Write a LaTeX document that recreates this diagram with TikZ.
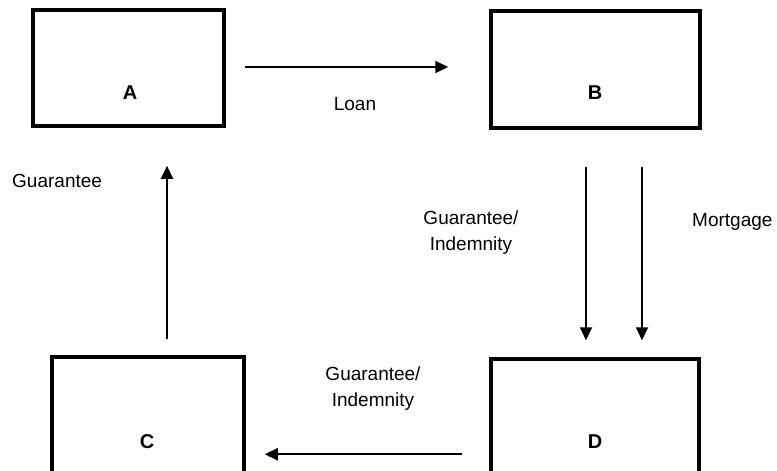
\documentclass[tikz,border=0pt]{standalone}
\usepackage{fontspec}
\setmainfont{Liberation Sans}
\usetikzlibrary{arrows.meta}
\tikzset{
  party/.style={draw=black, line width=3.5pt, rectangle, inner sep=0pt},
  letter/.style={font=\fontsize{20}{24}\selectfont\bfseries, anchor=base, inner sep=0pt},
  lbl/.style={font=\fontsize{19}{26}\selectfont, inner sep=0pt},
  flow/.style={line width=2pt, -{Triangle[length=13pt,width=12pt]}},
}
\begin{document}
\begin{tikzpicture}[x=1pt, y=-1pt]
  \useasboundingbox (0,0) rectangle (777,471);
  \clip (0,0) rectangle (777,471);
  \fill[white] (0,0) rectangle (777,471);

  % the four parties (C and D run past the lower edge)
  \node[party, minimum width=191pt, minimum height=116pt] (A) at (128.5,68) {};
  \node[party, minimum width=209pt, minimum height=117pt] (B) at (595.5,69.5) {};
  \node[party, minimum width=192pt, minimum height=140pt] (C) at (148,427) {};
  \node[party, minimum width=208pt, minimum height=140pt] (D) at (595,429) {};

  \node[letter] (Al) at (130,99) {A};
  \node[letter] (Bl) at (595,99) {B};
  \node[letter] (Cl) at (147,448) {C};
  \node[letter] (Dl) at (595,448) {D};

  % flows between the parties
  \draw[flow, shorten <=19pt, shorten >=41pt] ([yshift=1pt]A.east) -- ([yshift=1pt]A.east -| B.west);
  \draw[flow, shorten <=16pt, shorten >=38pt] ([xshift=19pt]C.north) -- ([xshift=19pt]C.north |- A.south);
  \draw[flow, shorten <=37pt, shorten >=17pt] ([xshift=-9.5pt]B.south) -- ([xshift=-9.5pt]B.south |- D.north);
  \draw[flow, shorten <=37pt, shorten >=17pt] ([xshift=46.5pt]B.south) -- ([xshift=46.5pt]B.south |- D.north);
  \draw[flow, shorten <=27pt, shorten >=19pt] ([yshift=-97pt]D.north west) -- ([yshift=-97pt]D.north west -| C.east);

  % labels (multi-line labels sit on the baseline of their last line)
  \node[lbl, anchor=base] (loan) at (355,110) {Loan};
  \node[lbl, anchor=base west] (guar) at (12,187) {Guarantee};
  \node[lbl, align=center, anchor=base] (gi1) at (471,250) {Guarantee/\\Indemnity};
  \node[lbl, anchor=base west] (mort) at (692,226) {Mortgage};
  \node[lbl, align=center, anchor=base] (gi2) at (373,406) {Guarantee/\\Indemnity};
\end{tikzpicture}
\end{document}
